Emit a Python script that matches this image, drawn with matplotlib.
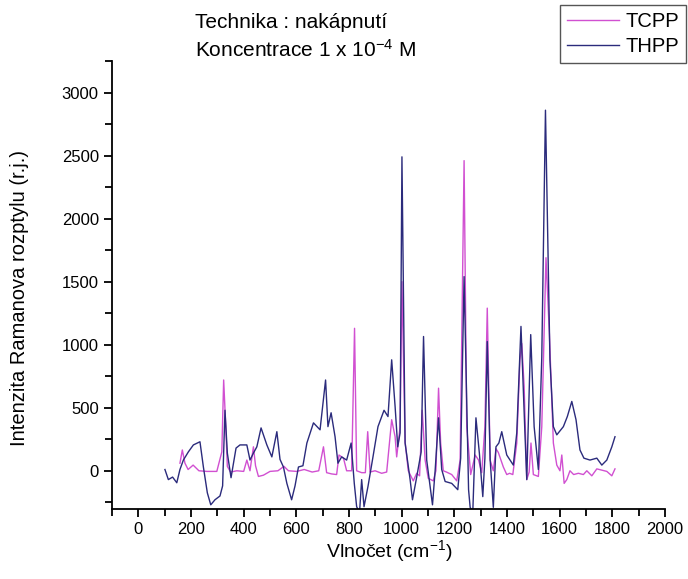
import matplotlib.pyplot as plt
from matplotlib.ticker import MultipleLocator

plt.rcParams['font.family'] = ['Liberation Sans', 'DejaVu Sans']
plt.rcParams['mathtext.fontset'] = 'custom'
plt.rcParams['mathtext.rm'] = 'Liberation Sans'
plt.rcParams['mathtext.default'] = 'regular'

# THPP spectrum
thpp_x = [101, 114, 130, 146, 158, 171, 190, 209, 234, 247,
          262, 275, 291, 310, 320, 329, 338, 352, 371, 386,
          412, 424, 437, 450, 466, 488, 507, 526, 538, 551,
          564, 582, 595, 608, 625, 640, 665, 690, 711, 720,
          732, 747, 758, 772, 791, 808, 820, 829, 840, 848,
          857, 872, 891, 910, 933, 948, 962, 975, 985, 994,
          1001, 1013, 1032, 1041, 1057, 1074, 1083, 1095, 1108, 1117,
          1127, 1140, 1152, 1165, 1190, 1213, 1224, 1237, 1254, 1260,
          1270, 1282, 1295, 1308, 1316, 1325, 1336, 1348, 1358, 1369,
          1380, 1399, 1424, 1437, 1453, 1468, 1475, 1490, 1503, 1519,
          1532, 1546, 1563, 1576, 1589, 1614, 1629, 1646, 1662, 1677,
          1692, 1715, 1741, 1760, 1779, 1798, 1810]
thpp_y = [10, -70, -50, -95, 10, 85, 150, 205, 230, 30,
          -175, -270, -230, -200, -120, 480, 140, -55, 180, 205,
          205, 85, 140, 190, 340, 205, 110, 310, 90, 30,
          -100, -230, -120, 30, 40, 220, 380, 325, 720, 350,
          460, 270, 60, 110, 85, 220, -100, -285, -330, -70,
          -285, -125, 110, 350, 480, 430, 880, 510, 190, 300,
          2490, 220, -70, -230, -50, 150, 1065, 85, -125, -270,
          0, 420, 10, -85, -100, -150, 100, 1540, -150, -290,
          -330, 420, 140, -205, 100, 1025, 85, -290, 190, 220,
          310, 125, 45, 300, 1145, 300, -70, 1080, 350, 10,
          900, 2860, 880, 350, 285, 350, 430, 550, 405, 165,
          100, 85, 100, 45, 85, 190, 270]

# TCPP spectrum
tcpp_x = [158, 167, 177, 189, 208, 230, 260, 298, 317, 324,
          332, 338, 350, 374, 400, 412, 424, 437, 445, 456,
          475, 500, 530, 553, 570, 601, 630, 660, 685, 703,
          715, 734, 753, 762, 779, 791, 810, 821, 829, 848,
          862, 871, 880, 899, 924, 943, 962, 975, 981, 994,
          1001, 1013, 1025, 1044, 1057, 1068, 1078, 1089, 1101, 1120,
          1130, 1140, 1148, 1158, 1170, 1190, 1209, 1222, 1237, 1247,
          1262, 1279, 1292, 1304, 1316, 1325, 1336, 1348, 1358, 1367,
          1386, 1399, 1410, 1422, 1437, 1449, 1456, 1465, 1475, 1484,
          1491, 1500, 1519, 1532, 1548, 1561, 1576, 1589, 1601, 1608,
          1617, 1627, 1639, 1653, 1671, 1690, 1703, 1722, 1741, 1760,
          1779, 1798, 1810]
tcpp_y = [60, 165, 60, 10, 45, 0, -5, -5, 150, 720,
          350, 35, -10, 0, -5, 85, 0, 190, 40, -45,
          -35, -5, 0, 35, 0, -5, 10, -10, 0, 190,
          -15, -25, -30, 125, 100, 0, 0, 1130, 0, -15,
          -15, 310, -10, 0, -20, -10, 405, 270, 110, 350,
          1500, 230, 0, -80, -20, -40, 480, 85, -60, -80,
          0, 655, 220, 0, -10, -30, -80, 85, 2460, 350,
          -30, 125, 85, -15, 350, 1290, 85, 0, 175, 145,
          30, -30, -20, -30, 220, 880, 1010, 670, -70, -10,
          220, -30, -45, 350, 1690, 1080, 220, 45, 0, 125,
          -100, -70, 0, -30, -20, -30, 0, -40, 15, 5,
          -5, -40, 15]

fig = plt.figure(figsize=(6.88, 5.79), dpi=100)
ax = fig.add_axes([0.1628, 0.1216, 0.8038, 0.773])

l1, = ax.plot(tcpp_x, tcpp_y, color='#d150d1', lw=1.0, label='TCPP')
l2, = ax.plot(thpp_x, thpp_y, color='#2b2b7c', lw=1.0, label='THPP')

ax.set_xlim(-100, 2000)
ax.set_ylim(-300, 3250)
ax.xaxis.set_major_locator(MultipleLocator(200))
ax.xaxis.set_minor_locator(MultipleLocator(100))
ax.yaxis.set_major_locator(MultipleLocator(500))
ax.yaxis.set_minor_locator(MultipleLocator(250))
ax.spines['top'].set_visible(False)
ax.spines['right'].set_visible(False)
for s in ('left', 'bottom'):
    ax.spines[s].set_linewidth(1.3)
ax.tick_params(which='major', direction='out', length=6, width=1.3, labelsize=12)
ax.tick_params(which='minor', direction='out', length=5, width=1.3)

fig.text(389 / 688, 1 - 551 / 579, 'Vlnočet (cm$^{-1}$)', fontsize=14,
         ha='center', va='center')
fig.text(20 / 688, 1 - 298 / 579, 'Intenzita Ramanova rozptylu (r.j.)', fontsize=14.5,
         ha='center', va='center', rotation=90)

fig.text(195 / 688, 1 - 22 / 579, 'Technika : nakápnutí', fontsize=15, va='center')
fig.text(195 / 688, 1 - 50 / 579, 'Koncentrace 1 x 10$^{-4}$ M', fontsize=15, va='center')

leg = fig.legend(handles=[l1, l2], loc='upper right', bbox_to_anchor=(686 / 688, 1 - 5 / 579),
                 fontsize=14.5, fancybox=False, framealpha=1, edgecolor='#555555',
                 handlelength=2.6, borderpad=0.35, labelspacing=0.3, handletextpad=0.3,
                 borderaxespad=0)
leg.get_frame().set_linewidth(1.0)

fig.savefig('out.png', dpi=100)
